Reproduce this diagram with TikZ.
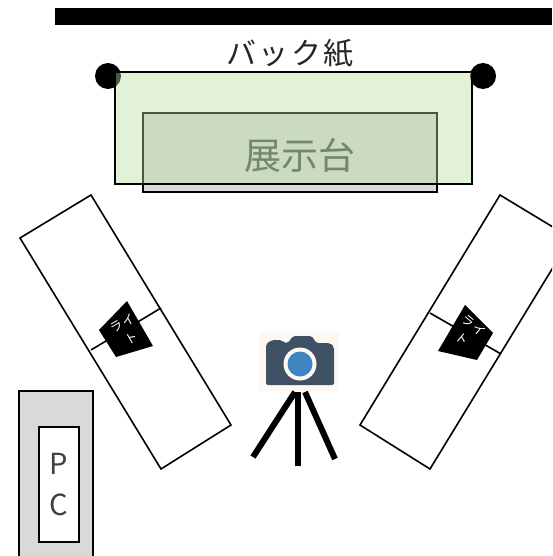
\documentclass[tikz,border=0pt]{standalone}
\usepackage{fontspec}
\setmainfont{Noto Sans CJK JP}
\newfontfamily\spacedfont[LetterSpace=8]{Noto Sans CJK JP}
\definecolor{papergreen}{HTML}{B4E09A}
\definecolor{tablegray}{HTML}{D9D9D9}
\definecolor{camerabody}{HTML}{3F5164}
\definecolor{cameracream}{HTML}{FDF8F2}
\definecolor{lensblue}{HTML}{3F86C0}
\tikzset{
	outline/.style={draw=black,line width=1.6pt},
	lighttext/.style={white,align=center,font=\spacedfont\fontsize{12.5}{18}\selectfont,inner sep=0pt},
	legline/.style={line width=6pt}
}

\begin{document}
\begin{tikzpicture}[x=1pt,y=-1pt]
	\clip (0,0) rectangle (552,556);
	\fill[white] (0,0) rectangle (552,556);

	%wall
	\fill[black] (55,8) rectangle (552,25);

	%stands
	\fill[black] (108,76) circle (13);
	\fill[black] (483,76) circle (13);
	\node[font=\spacedfont\fontsize{30}{30}\selectfont,text=black!85] (backlabel) at (290,53) {バック紙};

	%table
	\draw[outline,fill=tablegray] (143,113) rectangle (437,192);
	\node[font=\fontsize{37}{37}\selectfont,text=black!70] (tablelabel) at (300,155) {展示台};

	%back paper
	\fill[papergreen,fill opacity=0.4] (115,72) rectangle (472,184);
	\draw[outline] (115,72) rectangle (472,184);

	%left light
	\draw[outline] (91,195)--(20,238)--(161,469)--(231,425)--cycle;
	\draw[outline] (91,350)--(161,308);
	\fill[black] (127,301)--(153,346)--(116,357)--(99,330)--cycle;
	\node[lighttext,rotate=30] (leftlabel) at (127,331) {ライ\\ト};

	%right light
	\draw[outline] (500,195)--(571,238)--(430,469)--(360,425)--cycle;
	\draw[outline] (430,313)--(501,354);
	\fill[black] (465,305)--(493,333)--(477,360)--(438,351)--cycle;
	\node[lighttext,rotate=-40] (rightlabel) at (468,332) {ライ\\ト};

	%camera
	\fill[cameracream] (259,331) rectangle (339,391);
	\fill[camerabody,rounded corners=2pt] (266,385)--(266,344)--(272,340)--(282,340)--(284,343)--(288,343)--(293,336)--(312,336)--(316,343)--(330,343)--(334,347)--(334,385)--cycle;
	\fill[cameracream] (300,364) circle (16.5);
	\fill[lensblue] (300,364) circle (12.5);

	%tripod
	\draw[legline] (295,392)--(253,457);
	\draw[legline] (298,392)--(298,466);
	\draw[legline] (305,392)--(335,459);

	%pc desk
	\draw[outline,fill=tablegray] (19,391) rectangle (93,570);
	\draw[outline,fill=white] (39,427) rectangle (79,542);
	\node[align=center,font=\fontsize{29}{41}\selectfont,text=black!75] (pclabel) at (59,485) {P\\C};
\end{tikzpicture}
\end{document}
